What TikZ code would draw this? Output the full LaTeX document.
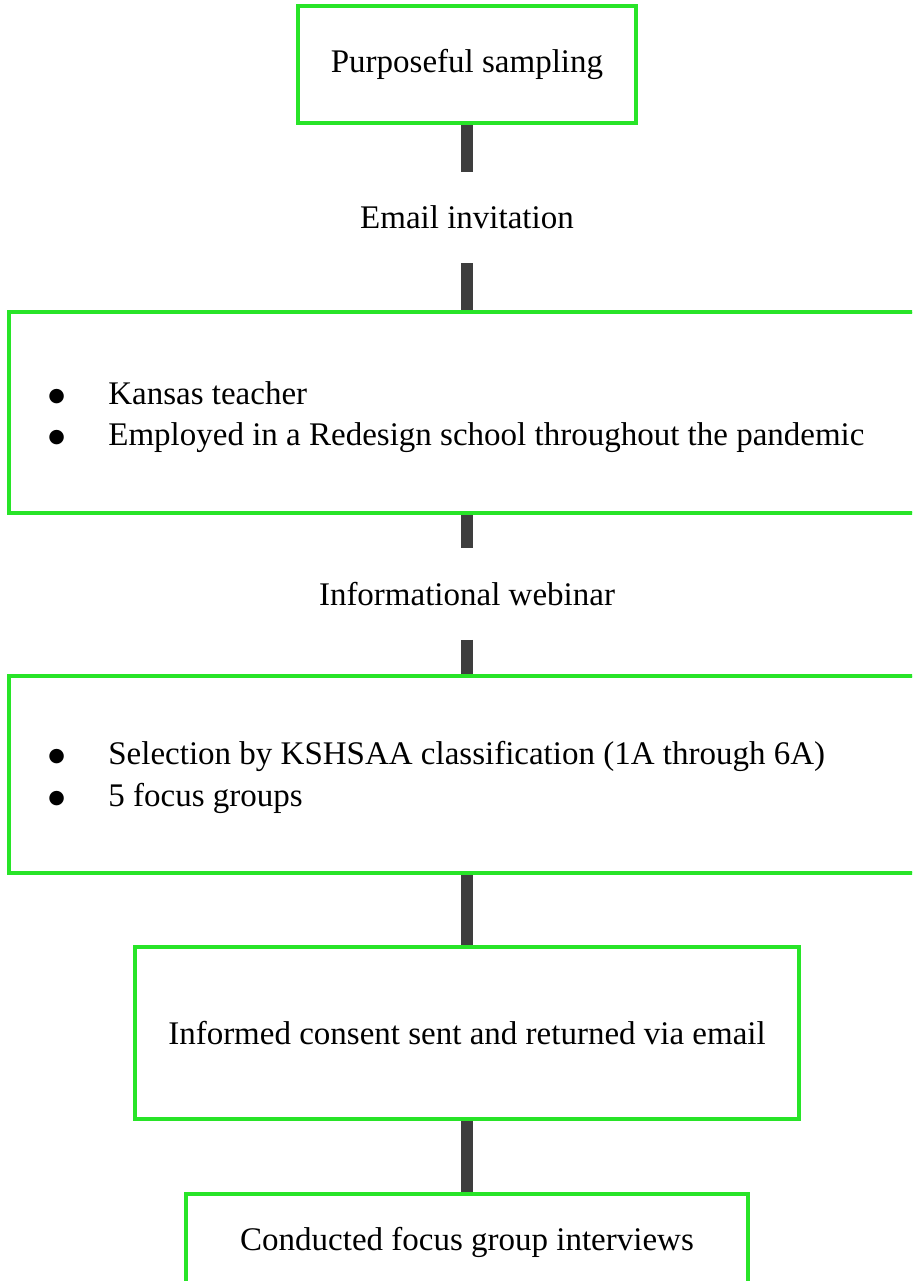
\documentclass[tikz,border=0pt]{standalone}
\usepackage{fontspec}
\setmainfont{Liberation Serif}
\newfontfamily\dotfont{DejaVu Sans}
\definecolor{boxgreen}{RGB}{40,228,40}
\definecolor{bargray}{RGB}{62,62,62}
% list marker: a solid round dot
\newcommand{\listdot}{\makebox[30pt][l]{\raisebox{1.4pt}{\dotfont\fontsize{9.5}{9.5}\selectfont ●}}}
\begin{document}
\begin{tikzpicture}[x=0.5pt,y=-0.5pt,
  every node/.style={font=\fontsize{16.5}{20.5}\selectfont},
  stage/.style={draw=boxgreen,line width=1.4pt,fill=white,inner sep=0pt,align=center},
  linkbar/.style={draw=bargray,line width=6pt},
  midlabel/.style={inner sep=0pt,minimum height=45.5pt,text depth=0pt},
  bullets/.style={inner sep=0pt,align=left,anchor=west}]
  \clip (0,0) rectangle (912,1281);
  \useasboundingbox (0,0) rectangle (912,1281);

  % stages and labels between them
  \node[stage,minimum width=168pt,minimum height=57.5pt] (s1) at (467,64.5) {Purposeful sampling};
  \node[midlabel] (l1) at (467,217.5) {Email invitation};
  \node[stage,minimum width=457pt,minimum height=99.5pt] (s2) at (467,412.5) {};
  \node[bullets] (t2) at (48,417)
    {\listdot Kansas teacher\\
     \listdot Employed in a Redesign school throughout the pandemic};
  \node[midlabel] (l2) at (467,594) {Informational webinar};
  \node[stage,minimum width=457pt,minimum height=97.5pt] (s3) at (467,774.5) {};
  \node[bullets] (t3) at (48,777)
    {\listdot Selection by KSHSAA classification (1A through 6A)\\[0.5pt]
     \listdot 5 focus groups};
  \node[stage,minimum width=331pt,minimum height=85pt] (s4) at (467,1033) {Informed consent sent and returned via email};
  \node[stage,minimum width=280.5pt,minimum height=47.5pt] (s5) at (467,1242) {Conducted focus group interviews};

  % connectors
  \draw[linkbar] (s1.south) -- (l1.north);
  \draw[linkbar] (l1.south) -- (s2.north);
  \draw[linkbar] (s2.south) -- (l2.north);
  \draw[linkbar] (l2.south) -- (s3.north);
  \draw[linkbar] (s3.south) -- (s4.north);
  \draw[linkbar] (s4.south) -- (s5.north);

  % redraw box outlines over the bar ends
  \foreach \b in {s1,s2,s3,s4,s5}
    \draw[boxgreen,line width=1.4pt] (\b.north west) rectangle (\b.south east);
\end{tikzpicture}
\end{document}
